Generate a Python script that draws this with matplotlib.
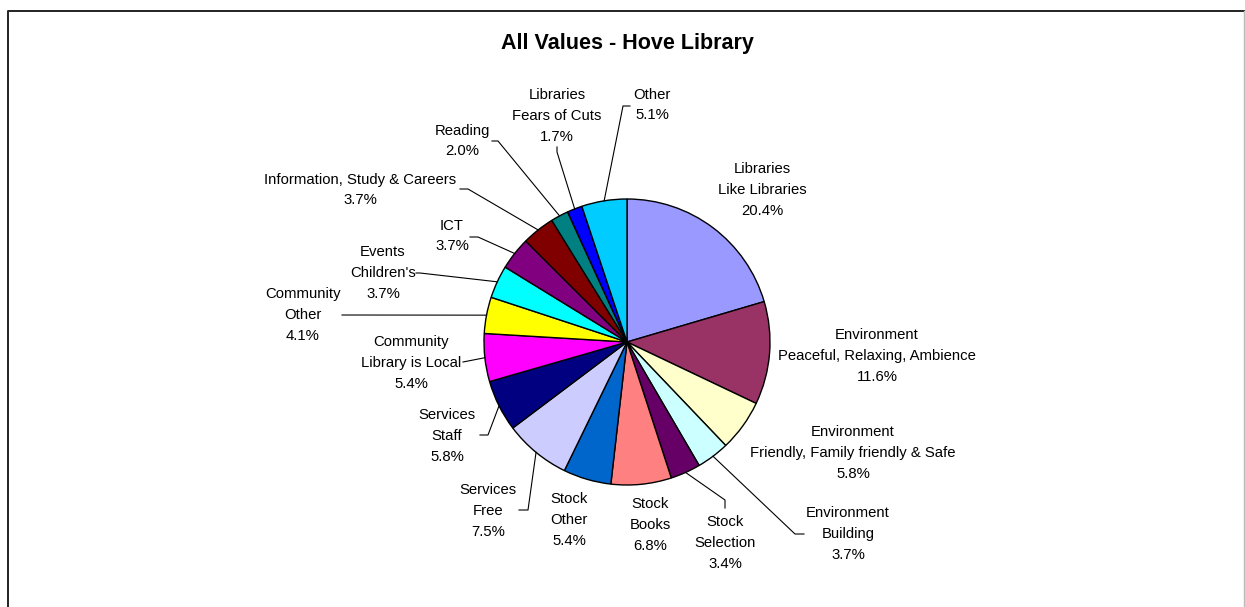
import numpy as np
import matplotlib
matplotlib.use("Agg")
import matplotlib.pyplot as plt

plt.rcParams['font.family'] = ['Liberation Sans', 'DejaVu Sans']

# dati (percentuali)
categorie = [
    "Libraries\nLike Libraries",
    "Environment\nPeaceful, Relaxing, Ambience",
    "Environment\nFriendly, Family friendly & Safe",
    "Environment\nBuilding",
    "Stock\nSelection",
    "Stock\nBooks",
    "Stock\nOther",
    "Services\nFree",
    "Services\nStaff",
    "Community\nLibrary is Local",
    "Community\nOther",
    "Events\nChildren's",
    "ICT",
    "Information, Study & Careers",
    "Reading",
    "Libraries\nFears of Cuts",
    "Other",
]
valori = [20.4, 11.6, 5.8, 3.7, 3.4, 6.8, 5.4, 7.5, 5.8, 5.4, 4.1, 3.7, 3.7, 3.7, 2.0, 1.7, 5.1]
colori = ["#9999FF", "#993366", "#FFFFCC", "#CCFFFF", "#660066", "#FF8080", "#0066CC",
          "#CCCCFF", "#000080", "#FF00FF", "#FFFF00", "#00FFFF", "#800080", "#800000",
          "#008080", "#0000FF", "#00CCFF"]

W, H = 1245, 607
cx, cy, raggio = 627, 342, 143

# posizione etichette (pixel, y dall'alto) e punti della linea guida (None = senza linea)
pos_etichette = [
    (762, 190), (877, 356), (853, 453), (848, 534), (725, 543), (650, 525), (569, 520),
    (488, 511), (447, 436), (411, 363), (303, 315), (383, 273), (452, 236), (360, 190),
    (462, 141), (557, 116), (652, 105),
]
guide = [
    None, None, None,
    [(795, 534), (804, 534)],
    [(725, 500), (725, 508)],
    None, None,
    [(528, 510), (519, 510)],
    [(488, 435), (480, 435)],
    [(463, 362)],
    [(342, 315)],
    [(420, 273), (416, 273)],
    [(478, 237), (470, 237)],
    [(468, 189), (460, 189)],
    [(498, 141), (492, 141)],
    [(557, 152), (557, 147)],
    [(623, 106), (630, 106)],
]


def Y(y):
    return H - y


fig = plt.figure(figsize=(W / 100, H / 100), dpi=100)
ax = fig.add_axes([0, 0, 1, 1])
ax.set_xlim(0, W)
ax.set_ylim(0, H)
ax.set_aspect('equal')
ax.axis('off')

# cornice (sopra e a sinistra scura, a destra grigia chiara)
ax.plot([7.5, 7.5, W - 1], [0, Y(10.5), Y(10.5)], color='#222222', linewidth=1.4)
ax.plot([W - 1, W - 1], [0, Y(10.5)], color='#bbbbbb', linewidth=1.0)

wedges, _ = ax.pie(valori, colors=colori, startangle=90, counterclock=False,
                   center=(cx, Y(cy)), radius=raggio,
                   wedgeprops=dict(edgecolor='black', linewidth=1.0))

ax.set_xlim(0, W)
ax.set_ylim(0, H)

for w, nome, v, (lx, ly), g in zip(wedges, categorie, valori, pos_etichette, guide):
    ax.text(lx, Y(ly), nome + "\n" + f"{v:.1f}%", ha='center', va='center',
            fontsize=10.7, linespacing=1.63, color='black')
    if g is not None:
        ang = np.deg2rad((w.theta1 + w.theta2) / 2)
        xs = [cx + raggio * np.cos(ang)] + [p[0] for p in g]
        ys = [Y(cy) + raggio * np.sin(ang)] + [Y(p[1]) for p in g]
        ax.plot(xs, ys, color='black', linewidth=0.8)

ax.text(627, Y(43), "All Values - Hove Library", ha='center', va='center',
        fontsize=15.5, fontweight='bold')

plt.savefig("out.png", dpi=100)
